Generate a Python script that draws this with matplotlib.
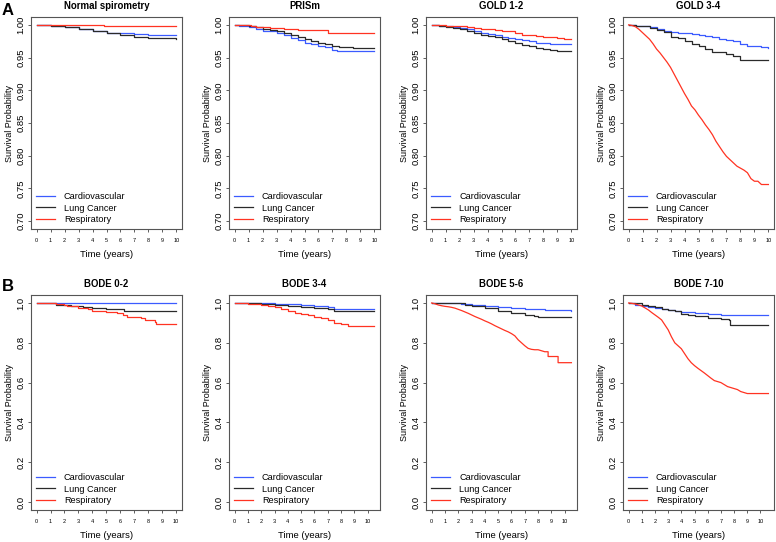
import matplotlib
matplotlib.use('Agg')
import matplotlib.pyplot as plt

plt.rcParams['font.family'] = ['Liberation Sans', 'DejaVu Sans']

labels = ["Cardiovascular", "Lung Cancer", "Respiratory"]
colors = ['#3b5bff', '#2a2a2a', '#ff3322']

# --- top row (spirometry / GOLD) ---
q = [i * 0.5 for i in range(21)]          # 0, 0.5, ..., 10
qq = [i * 0.25 for i in range(41)]        # 0, 0.25, ..., 10

normal_cv_t = [0, 1, 2, 3, 4, 5, 6, 7, 8, 10]
normal_cv_s = [1.0, 0.999, 0.997, 0.994, 0.991, 0.988, 0.987, 0.986, 0.984, 0.984]
normal_lc_t = [0, 1, 2, 3, 4, 5, 6, 7, 8, 10]
normal_lc_s = [1.0, 0.999, 0.997, 0.994, 0.990, 0.988, 0.984, 0.982, 0.980, 0.979]
normal_rs_t = [0, 4.8, 5.8, 10]
normal_rs_s = [1.0, 0.999, 0.998, 0.998]

prism_cv_t = [0, 0.3, 1, 1.5, 2, 2.5, 3, 3.5, 4, 4.5, 5, 5.5, 6, 6.5, 7, 7.3, 10]
prism_cv_s = [1.0, 0.998, 0.997, 0.994, 0.991, 0.990, 0.988, 0.984, 0.980, 0.977,
              0.973, 0.970, 0.968, 0.966, 0.962, 0.960, 0.960]
prism_lc_t = [0, 1.0, 1.5, 2, 2.5, 3, 3.5, 4, 4.5, 5, 5.5, 6, 6.5, 7, 7.5, 8.5, 10]
prism_lc_s = [1.0, 0.999, 0.996, 0.993, 0.992, 0.991, 0.988, 0.985, 0.981, 0.978,
              0.975, 0.972, 0.970, 0.967, 0.966, 0.964, 0.964]
prism_rs_t = [0, 1.2, 1.5, 2.5, 3.5, 4.5, 6.7, 10]
prism_rs_s = [1.0, 0.998, 0.996, 0.995, 0.994, 0.992, 0.987, 0.987]

gold12_cv_s = [1.0, 0.999, 0.998, 0.997, 0.995, 0.993, 0.991, 0.988, 0.986, 0.984, 0.982,
               0.980, 0.978, 0.977, 0.975, 0.973, 0.972, 0.971, 0.970, 0.970, 0.970]
gold12_lc_s = [1.0, 0.999, 0.997, 0.995, 0.993, 0.991, 0.988, 0.985, 0.983, 0.981, 0.978,
               0.975, 0.972, 0.969, 0.967, 0.965, 0.963, 0.961, 0.960, 0.960, 0.960]
gold12_rs_s = [1.0, 1.0, 0.999, 0.999, 0.998, 0.997, 0.995, 0.994, 0.993, 0.992, 0.991,
               0.990, 0.988, 0.985, 0.984, 0.983, 0.982, 0.981, 0.980, 0.979, 0.978]

gold34_cv_s = [1.0, 0.999, 0.998, 0.996, 0.993, 0.990, 0.989, 0.988, 0.987, 0.986, 0.984,
               0.983, 0.981, 0.979, 0.977, 0.975, 0.970, 0.968, 0.967, 0.966, 0.965]
gold34_lc_s = [1.0, 0.999, 0.998, 0.995, 0.992, 0.989, 0.982, 0.980, 0.976, 0.971, 0.967,
               0.963, 0.959, 0.958, 0.956, 0.953, 0.947, 0.947, 0.947, 0.947, 0.947]
gold34_rs_s = [1.0, 0.999, 0.997, 0.993, 0.988, 0.983, 0.978, 0.971, 0.963, 0.957, 0.950,
               0.943, 0.935, 0.925, 0.915, 0.905, 0.895, 0.886, 0.876, 0.870, 0.862,
               0.855, 0.847, 0.840, 0.832, 0.822, 0.814, 0.806, 0.799, 0.794, 0.789,
               0.784, 0.781, 0.778, 0.774, 0.765, 0.761, 0.761, 0.756, 0.756, 0.756]

# --- bottom row (BODE) ---
bode02_cv_t = [0, 10.05]
bode02_cv_s = [1.0, 1.0]
bode02_lc_t = [0, 1.4, 2.5, 3.3, 4.0, 5.0, 6.3, 10.05]
bode02_lc_s = [1.0, 0.99, 0.985, 0.98, 0.975, 0.97, 0.96, 0.96]
bode02_rs_t = [0, 1.4, 2.0, 2.2, 3.0, 3.7, 4.0, 5.0, 5.8, 6.2, 6.5, 7.5, 7.8, 8.5, 8.6, 10.05]
bode02_rs_s = [1.0, 0.995, 0.988, 0.985, 0.975, 0.97, 0.962, 0.955, 0.95, 0.94, 0.93,
               0.925, 0.915, 0.905, 0.893, 0.893]

bode34_cv_t = [0, 2, 3, 4, 5, 6, 7, 7.5, 10.5]
bode34_cv_s = [1.0, 0.998, 0.995, 0.993, 0.99, 0.987, 0.982, 0.97, 0.97]
bode34_lc_t = [0, 1, 2, 3, 4, 5, 6, 7, 7.5, 10.5]
bode34_lc_s = [1.0, 0.998, 0.995, 0.99, 0.985, 0.978, 0.975, 0.968, 0.958, 0.958]
bode34_rs_t = [0, 0.5, 1, 1.5, 2, 2.5, 3, 3.5, 4, 4.5, 5, 5.5, 6, 6.5, 7, 7.5, 8, 8.5, 10.5]
bode34_rs_s = [1.0, 0.999, 0.997, 0.994, 0.99, 0.985, 0.98, 0.97, 0.96, 0.952, 0.945,
               0.938, 0.93, 0.925, 0.915, 0.9, 0.895, 0.886, 0.886]

bode56_cv_t = [0, 2.2, 3, 4, 5, 6, 7, 8.5, 10.5]
bode56_cv_s = [1.0, 0.995, 0.99, 0.985, 0.98, 0.975, 0.97, 0.963, 0.958]
bode56_lc_t = [0, 2, 2.5, 3, 4, 5, 6, 7, 7.7, 8, 10.5]
bode56_lc_s = [1.0, 0.998, 0.99, 0.985, 0.975, 0.96, 0.95, 0.942, 0.935, 0.93, 0.93]
bode56_rs_t = [0, 0.25, 0.5, 0.75, 1, 1.25, 1.5, 1.75, 2, 2.25, 2.5, 2.75, 3, 3.25, 3.5,
               3.75, 4, 4.25, 4.5, 4.75, 5, 5.25, 5.5, 5.75, 6, 6.25, 6.5, 6.75, 7, 7.25,
               7.5, 7.75, 8, 8.25, 8.5, 8.75, 8.75, 9.5, 9.5, 10.5]
bode56_rs_s = [1.0, 0.996, 0.99, 0.986, 0.983, 0.981, 0.978, 0.974, 0.968, 0.962, 0.955,
               0.948, 0.94, 0.932, 0.925, 0.918, 0.91, 0.903, 0.895, 0.886, 0.878,
               0.87, 0.862, 0.855, 0.846, 0.835, 0.815, 0.8, 0.785, 0.772, 0.767,
               0.765, 0.765, 0.76, 0.755, 0.755, 0.731, 0.731, 0.7, 0.7]

bode710_cv_t = [0, 0.5, 1, 1.5, 2, 2.5, 3, 3.5, 4, 5, 6, 7, 10.6]
bode710_cv_s = [1.0, 0.99, 0.985, 0.98, 0.975, 0.97, 0.965, 0.96, 0.955, 0.95, 0.945, 0.94, 0.94]
bode710_lc_t = [0, 0.5, 1, 1.5, 2, 2.5, 3, 3.5, 4, 4.5, 5, 6, 7, 7.6, 7.7, 10.6]
bode710_lc_s = [1.0, 1.0, 0.99, 0.985, 0.978, 0.972, 0.965, 0.962, 0.945, 0.94, 0.935,
                0.925, 0.92, 0.915, 0.89, 0.89]
bode710_rs_t = [0, 0.25, 0.5, 0.75, 1, 1.25, 1.5, 1.75, 2, 2.25, 2.5, 2.75, 3, 3.25, 3.5,
                3.75, 4, 4.25, 4.5, 4.75, 5, 5.25, 5.5, 5.75, 6, 6.25, 6.5, 6.75, 7, 7.25,
                7.5, 7.75, 8, 8.25, 8.5, 8.75, 9, 10.6]
bode710_rs_s = [1.0, 0.998, 0.995, 0.99, 0.985, 0.975, 0.965, 0.952, 0.94, 0.928, 0.915,
                0.89, 0.865, 0.83, 0.80, 0.785, 0.77, 0.745, 0.72, 0.70, 0.685, 0.672,
                0.66, 0.648, 0.635, 0.622, 0.61, 0.605, 0.6, 0.59, 0.58, 0.575, 0.57,
                0.565, 0.555, 0.55, 0.545, 0.545]

top_titles = ["Normal spirometry", "PRISm", "GOLD 1-2", "GOLD 3-4"]
top_series = [
    [(normal_cv_t, normal_cv_s), (normal_lc_t, normal_lc_s), (normal_rs_t, normal_rs_s)],
    [(prism_cv_t, prism_cv_s), (prism_lc_t, prism_lc_s), (prism_rs_t, prism_rs_s)],
    [(q, gold12_cv_s), (q, gold12_lc_s), (q, gold12_rs_s)],
    [(q, gold34_cv_s), (q, gold34_lc_s), (qq, gold34_rs_s)],
]
bottom_titles = ["BODE 0-2", "BODE 3-4", "BODE 5-6", "BODE 7-10"]
bottom_series = [
    [(bode02_cv_t, bode02_cv_s), (bode02_lc_t, bode02_lc_s), (bode02_rs_t, bode02_rs_s)],
    [(bode34_cv_t, bode34_cv_s), (bode34_lc_t, bode34_lc_s), (bode34_rs_t, bode34_rs_s)],
    [(bode56_cv_t, bode56_cv_s), (bode56_lc_t, bode56_lc_s), (bode56_rs_t, bode56_rs_s)],
    [(bode710_cv_t, bode710_cv_s), (bode710_lc_t, bode710_lc_s), (bode710_rs_t, bode710_rs_s)],
]

top_yticks = [0.70, 0.75, 0.80, 0.85, 0.90, 0.95, 1.00]
bottom_yticks = [0.0, 0.2, 0.4, 0.6, 0.8, 1.0]
xticks = list(range(11))

W, H = 776, 542
fig = plt.figure(figsize=(W / 100, H / 100), dpi=100)
lefts = [31, 229, 426, 623]


def panel(left, top, bottom, title, series, yticks, yfmt):
    ax = fig.add_axes([left / W, 1 - bottom / H, 151 / W, (bottom - top) / H])
    for (t, s), c, lab in zip(series, colors, labels):
        # long, densely read curves drawn as lines, sparse ones as KM steps
        ds = 'default' if len(t) > 30 else 'steps-post'
        ax.plot(t, s, drawstyle=ds, color=c, lw=0.9, label=lab)
    tmax = max(max(t) for t, _ in series)
    ax.set_xlim(-0.04 * tmax, tmax * 1.04)
    y0, y1 = yticks[0], yticks[-1]
    pad = 0.04 * (y1 - y0)
    ax.set_ylim(y0 - pad, y1 + pad)
    ax.set_yticks(yticks)
    ax.set_yticklabels([yfmt.format(v) for v in yticks], rotation=90, va='center', fontsize=6.8)
    ax.set_xticks(xticks)
    ax.set_xticklabels([str(v) for v in xticks], fontsize=4)
    ax.tick_params(axis='both', length=2.5, width=0.6, color='#444444', pad=1.5)
    ax.tick_params(axis='x', pad=4)
    for sp in ax.spines.values():
        sp.set_color('#555555')
        sp.set_linewidth(0.8)
    ax.set_title(title, fontsize=6.9, fontweight='bold', pad=6)
    ax.set_xlabel("Time (years)", fontsize=6.8, labelpad=5)
    ax.set_ylabel("Survival Probability", fontsize=6.5, labelpad=2)
    ax.legend(loc='lower left', frameon=False, fontsize=6.6, handlelength=2.1,
              handletextpad=1.0, labelspacing=0.3, borderaxespad=0.3, borderpad=0.2)
    return ax


for i in range(4):
    panel(lefts[i], 17, 229, top_titles[i], top_series[i], top_yticks, "{:.2f}")
    panel(lefts[i], 295, 510, bottom_titles[i], bottom_series[i], bottom_yticks, "{:.1f}")

fig.text(2 / W, 1 - 3 / H, "A", fontsize=12, fontweight='bold', va='top', ha='left')
fig.text(2 / W, 1 - 279 / H, "B", fontsize=12, fontweight='bold', va='top', ha='left')

fig.savefig("out.png", dpi=100)
